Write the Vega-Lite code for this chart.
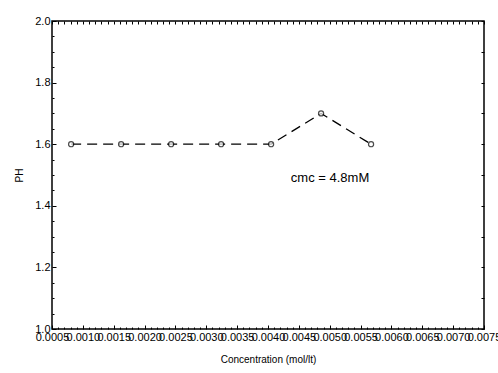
{
  "$schema": "https://vega.github.io/schema/vega-lite/v6.json",
  "width": 432,
  "height": 308,
  "autosize": {"type": "none"},
  "padding": {"left": 52, "top": 21, "right": 14, "bottom": 44},
  "background": "white",
  "config": {
    "font": "Liberation Sans",
    "view": {"stroke": "black", "strokeWidth": 1.5},
    "axis": {"grid": false, "domain": false, "tickColor": "black", "labelColor": "black", "titleColor": "black", "labelFont": "Liberation Sans", "titleFont": "Liberation Sans", "titleFontWeight": "normal"}
  },
  "datasets": {
    "pts": [
      {"conc": 0.00081, "ph": 1.6},
      {"conc": 0.00162, "ph": 1.6},
      {"conc": 0.00243, "ph": 1.6},
      {"conc": 0.00324, "ph": 1.6},
      {"conc": 0.00405, "ph": 1.6},
      {"conc": 0.00486, "ph": 1.7},
      {"conc": 0.00567, "ph": 1.6}
    ],
    "note": [{"conc": 0.00437, "ph": 1.49, "label": "cmc = 4.8mM"}]
  },
  "layer": [
    {
      "data": {"name": "pts"},
      "mark": {"type": "line", "color": "black", "strokeWidth": 1.3, "strokeDash": [10, 6]},
      "encoding": {
        "x": {"field": "conc", "type": "quantitative", "scale": {"domain": [0.0005, 0.0075], "nice": false, "zero": false},
          "axis": {"orient": "bottom", "title": "Concentration (mol/lt)", "titleFontSize": 10, "titlePadding": 12, "values": [0.0005, 0.001, 0.0015, 0.002, 0.0025, 0.003, 0.0035, 0.004, 0.0045, 0.005, 0.0055, 0.006, 0.0065, 0.007, 0.0075], "format": ".4f", "labelOverlap": false, "labelFontSize": 11, "labelPadding": 6, "tickSize": -4, "labelBound": false, "labelFlush": false}},
        "y": {"field": "ph", "type": "quantitative", "scale": {"domain": [1.0, 2.0], "nice": false, "zero": false},
          "axis": {"orient": "left", "title": "PH", "titleFontSize": 10, "titlePadding": 10, "values": [1.0, 1.2, 1.4, 1.6, 1.8, 2.0], "format": ".1f", "labelFontSize": 11, "labelPadding": 6, "tickSize": -4}}
      }
    },
    {
      "data": {"name": "pts"},
      "mark": {"type": "point", "shape": "circle", "color": "black", "fill": "white", "filled": false, "size": 26, "strokeWidth": 1.2},
      "encoding": {
        "x": {"field": "conc", "type": "quantitative", "axis": {"orient": "bottom", "title": null, "labels": false, "values": [0.0006,0.0007,0.0008,0.0009,0.0011,0.0012,0.0013,0.0014,0.0016,0.0017,0.0018,0.0019,0.0021,0.0022,0.0023,0.0024,0.0026,0.0027,0.0028,0.0029,0.0031,0.0032,0.0033,0.0034,0.0036,0.0037,0.0038,0.0039,0.0041,0.0042,0.0043,0.0044,0.0046,0.0047,0.0048,0.0049,0.0051,0.0052,0.0053,0.0054,0.0056,0.0057,0.0058,0.0059,0.0061,0.0062,0.0063,0.0064,0.0066,0.0067,0.0068,0.0069,0.0071,0.0072,0.0073,0.0074], "tickSize": -2}},
        "y": {"field": "ph", "type": "quantitative", "axis": {"orient": "left", "title": null, "labels": false, "values": [1.05,1.1,1.15,1.25,1.3,1.35,1.45,1.5,1.55,1.65,1.7,1.75,1.85,1.9,1.95], "tickSize": -2}}
      }
    },
    {
      "data": {"name": "note"},
      "mark": {"type": "text", "align": "left", "baseline": "middle", "fontSize": 13, "color": "black", "font": "Liberation Sans"},
      "encoding": {
        "x": {"field": "conc", "type": "quantitative", "axis": {"orient": "top", "title": null, "labels": false, "values": [0.0005,0.0006,0.0007,0.0008,0.0009,0.001,0.0011,0.0012,0.0013,0.0014,0.0015,0.0016,0.0017,0.0018,0.0019,0.002,0.0021,0.0022,0.0023,0.0024,0.0025,0.0026,0.0027,0.0028,0.0029,0.003,0.0031,0.0032,0.0033,0.0034,0.0035,0.0036,0.0037,0.0038,0.0039,0.004,0.0041,0.0042,0.0043,0.0044,0.0045,0.0046,0.0047,0.0048,0.0049,0.005,0.0051,0.0052,0.0053,0.0054,0.0055,0.0056,0.0057,0.0058,0.0059,0.006,0.0061,0.0062,0.0063,0.0064,0.0065,0.0066,0.0067,0.0068,0.0069,0.007,0.0071,0.0072,0.0073,0.0074,0.0075], "tickSize": -3}},
        "y": {"field": "ph", "type": "quantitative", "axis": {"orient": "right", "title": null, "labels": false, "values": [1.0,1.1,1.2,1.3,1.4,1.5,1.6,1.7,1.8,1.9,2.0], "tickSize": -3}},
        "text": {"field": "label"}
      }
    }
  ],
  "resolve": {"axis": {"x": "independent", "y": "independent"}}
}
